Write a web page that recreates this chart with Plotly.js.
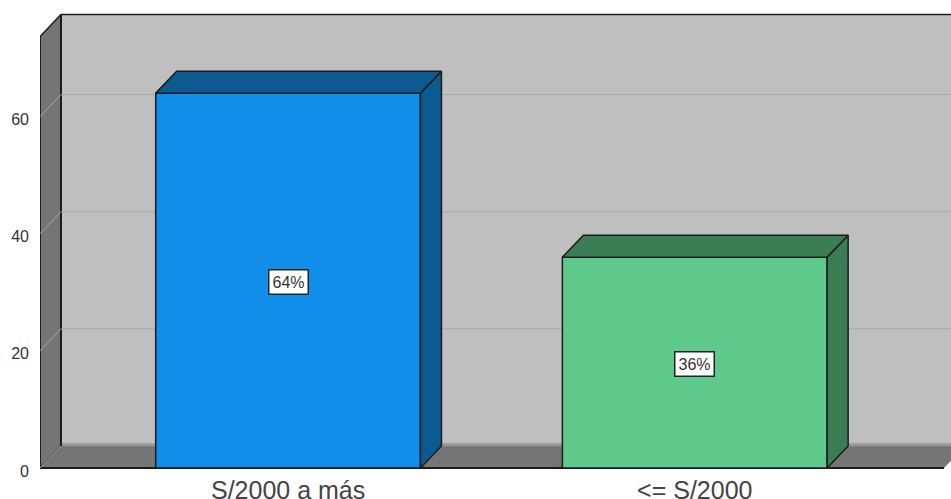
<!DOCTYPE html>
<html>
<head>
<meta charset="utf-8">
<script src="https://cdn.plot.ly/plotly-3.0.1.min.js"></script>
<style>html,body{margin:0;padding:0;background:#fff}#c{width:951px;height:499px}</style>
</head>
<body>
<div id="c"></div>
<script>
var categories = ['S/2000 a más', '<= S/2000'];
var values = [64, 36];
var percentLabels = ['64%', '36%'];
var frontColors = ['#118dea', '#5ec98a'];
var sideColors = ['#0d5a90', '#3a7d55'];
var yTicks = [0, 20, 40, 60];

var barWidth = 0.651, depthX = 0.0516, depthY = 3.75;
var xLeft = -0.61, xRight = 1.63, xFloorEnd = 1.6128, yTop = 73.66;
var yMax = 79.9, yMin = -0.17;
var edge = '#1c1c1c';
var traces = [];

function poly(xs, ys, fill, lineColor, lineWidth, z) {
  traces.push({type: 'scatter', mode: 'lines', x: xs, y: ys, fill: 'toself', fillcolor: fill,
    line: {color: lineColor, width: lineWidth}, hoverinfo: 'skip', showlegend: false, zorder: z});
}
function seg(xs, ys, color, width, z) {
  traces.push({type: 'scatter', mode: 'lines', x: xs, y: ys,
    line: {color: color, width: width}, hoverinfo: 'skip', showlegend: false, zorder: z});
}

// Chart box: back wall, left wall, floor
poly([xLeft + depthX, xRight + 0.1, xRight + 0.1, xLeft + depthX, xLeft + depthX],
     [depthY, depthY, yTop + depthY, yTop + depthY, depthY], '#bfbfbf', edge, 1.5, 0);
poly([xLeft, xLeft + depthX, xLeft + depthX, xLeft, xLeft],
     [0, depthY, yTop + depthY, yTop, 0], '#757575', edge, 1.5, 0);
poly([xLeft, xFloorEnd, xFloorEnd + depthX, xLeft + depthX, xLeft],
     [0, 0, depthY, depthY, 0], '#757575', 'rgba(0,0,0,0)', 0, 0);
seg([xLeft, xFloorEnd], [0, 0], edge, 2, 0);
seg([xLeft + depthX, xRight + 0.1], [depthY + 0.2, depthY + 0.2], '#999999', 3, 0);
seg([xLeft + depthX, xLeft + depthX], [depthY, yTop + depthY], edge, 2, 0);
seg([xLeft, xLeft], [0, yTop], edge, 1.5, 0);

// Gridlines on the walls
yTicks.forEach(function (t) {
  if (t > 0) seg([xLeft + depthX, xRight + 0.1], [t + depthY, t + depthY], '#a8a8a8', 1, 0);
  seg([xLeft, xLeft + depthX], [t, t + depthY], '#a3a3a3', 1, 0);
});

// Front faces
traces.push({type: 'bar', x: categories.map(function (c, i) { return i; }), y: values, width: barWidth,
  marker: {color: frontColors, line: {color: edge, width: 1.5}}, hoverinfo: 'skip', showlegend: false, zorder: 1});

// Side and top faces, from the values
values.forEach(function (v, i) {
  var l = i - barWidth / 2, r = i + barWidth / 2;
  poly([r, r + depthX, r + depthX, r, r], [0, depthY, v + depthY, v, 0], sideColors[i], edge, 1.5, 2);
  poly([l, l + depthX, r + depthX, r, l], [v, v + depthY, v + depthY, v, v], sideColors[i], edge, 1.5, 2);
});

var annotations = values.map(function (v, i) {
  return {x: i, y: v / 2, xref: 'x', yref: 'y', yshift: -1.5, text: percentLabels[i], showarrow: false,
    bgcolor: '#ffffff', bordercolor: '#222222', borderwidth: 1.5, borderpad: 3,
    font: {family: 'Liberation Sans, Arial, sans-serif', size: 16, color: '#333333'}};
});

Plotly.newPlot('c', traces, {
  width: 951, height: 499,
  margin: {l: 40, r: 0, t: 0, b: 30, pad: 0},
  paper_bgcolor: '#ffffff', plot_bgcolor: '#ffffff',
  barmode: 'overlay', showlegend: false,
  annotations: annotations,
  xaxis: {type: 'linear', range: [xLeft, xRight], tickmode: 'array', tickvals: [0, 1], ticktext: categories,
    showgrid: false, zeroline: false, showline: false, ticks: '', ticklabelstandoff: 4, automargin: false,
    tickfont: {family: 'Liberation Sans, Arial, sans-serif', size: 25, color: '#444444'}},
  yaxis: {type: 'linear', range: [yMin, yMax], tickmode: 'array', tickvals: yTicks,
    showgrid: false, zeroline: false, showline: false, ticks: '', ticklabelstandoff: 10, ticklabelshift: 3,
    tickfont: {family: 'Liberation Sans, Arial, sans-serif', size: 16, color: '#333333'}}
}, {displayModeBar: false, staticPlot: true});
</script>
</body>
</html>
